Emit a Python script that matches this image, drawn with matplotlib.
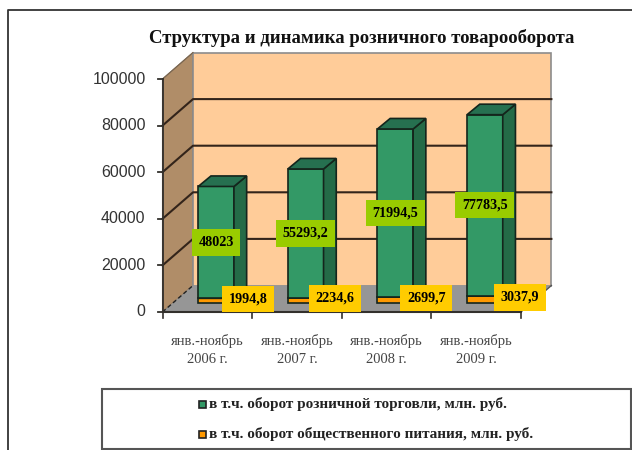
import matplotlib
matplotlib.use('Agg')
import matplotlib.pyplot as plt
from matplotlib.patches import Polygon, Rectangle

# data
periods = ['янв.-ноябрь\n2006 г.', 'янв.-ноябрь\n2007 г.', 'янв.-ноябрь\n2008 г.', 'янв.-ноябрь\n2009 г.']
retail = [48023, 55293.2, 71994.5, 77783.5]
catering = [1994.8, 2234.6, 2699.7, 3037.9]
retail_labels = ['48023', '55293,2', '71994,5', '77783,5']
catering_labels = ['1994,8', '2234,6', '2699,7', '3037,9']
yticks = [0, 20000, 40000, 60000, 80000, 100000]
title = 'Структура и динамика розничного товарооборота'
legend_names = ['в т.ч. оборот розничной торговли, млн. руб.',
                'в т.ч. оборот общественного питания, млн. руб.']

W, H = 632, 450
SERIF = 'Liberation Serif'
SANS = 'Liberation Sans'
LINE = '#14251c'

# one category = 89.6 px, 100000 = 233 px, origin at pixel (162.5, 312)
sx = 89.6
sy = 233 / 100000
fig = plt.figure(figsize=(W / 100, H / 100), dpi=100, facecolor='white')
ax = fig.add_axes([0, 0, 1, 1])
ax.set_xlim(-162.5 / sx, (W - 162.5) / sx)
ax.set_ylim(-(H - 312) / sy, 312 / sy)
ax.axis('off')


def px(x, y):
    return x / sx, y / sy


n = len(periods)
top = yticks[-1]
ddx, ddy = px(30.5, 26.5)

# outer frame of the slide
fig.add_artist(plt.Line2D([7.5 / W, 7.5 / W, 1], [0, 1 - 9.5 / H, 1 - 9.5 / H], color='#333333', lw=1.3))

# walls and floor
ax.add_patch(Polygon([(0, 0), (ddx, ddy), (ddx, top + ddy), (0, top)], fc='#B08D68', ec='#8a7560', lw=0.8, zorder=1))
ax.add_patch(Rectangle((ddx, ddy), n, top, fc='#FFCC99', ec='#8c8c8c', lw=1.2, zorder=1))
ax.add_patch(Polygon([(0, 0), (n, 0), (n + ddx, ddy), (ddx, ddy)], fc='#969696', ec='none', zorder=2))
ax.plot([0, ddx], [0, ddy], color='#222222', lw=1, ls=(0, (3, 2)), zorder=3)
ax.plot([n, n + ddx], [0, ddy], color='#555555', lw=1, zorder=3)

# gridlines
for v in yticks[1:]:
    if v < top:
        ax.plot([0, ddx, n + ddx], [v, v + ddy, v + ddy], color='#33241a', lw=1.5, zorder=2)
    else:
        ax.plot([0, ddx], [v, v + ddy], color='#7a6650', lw=0.8, zorder=2)

# axes lines and ticks
ax.plot([0, 0], [0, top], color='#33302c', lw=1.3, zorder=3)
ax.plot([0, n], [0, 0], color='#33302c', lw=1.5, zorder=3)
for v in yticks:
    ax.plot([-5 / sx, 0], [v, v], color='#33302c', lw=1.3, zorder=3)
    ax.text(-17 / sx, v, str(v), ha='right', va='center', fontsize=11.5, family=SANS, color='#333333')
for i in range(n + 1):
    ax.plot([i, i], [0, -6 / sy], color='#33302c', lw=1.2, zorder=3)
for i, name in enumerate(periods):
    ax.text(i + 0.5, -38 / sy, name, ha='center', va='center', fontsize=10.5, family=SERIF,
            color='#444444', linespacing=1.45)

# bars
bw = 35.7 / sx
fx, fy = px(8.8, 9)
bx, by = px(12.7, 10.5)


def box(x, y0, y1, front, side, roof, z):
    ax.add_patch(Rectangle((x, y0), bw, y1 - y0, fc=front, ec=LINE, lw=1.2, zorder=z))
    ax.add_patch(Polygon([(x + bw, y0), (x + bw + bx, y0 + by), (x + bw + bx, y1 + by), (x + bw, y1)],
                         fc=side, ec=LINE, lw=1.2, zorder=z))
    ax.add_patch(Polygon([(x, y1), (x + bw, y1), (x + bw + bx, y1 + by), (x + bx, y1 + by)],
                         fc=roof, ec=LINE, lw=1.2, zorder=z))


for i in range(n):
    x = i + 0.5 + fx - bw / 2
    box(x, fy, fy + catering[i], '#FF9900', '#B36B00', '#CC7A00', 4)
    box(x, fy + catering[i], fy + catering[i] + retail[i], '#339966', '#246B47', '#267050', 5)

# value labels
cat_shift = [32, 29, 31, 35]
for i in range(n):
    cx = i + 0.5 + fx
    ax.text(cx, fy + catering[i] + retail[i] / 2, retail_labels[i], ha='center', va='center',
            fontsize=10.2, family=SERIF, fontweight='bold', zorder=7,
            bbox=dict(fc='#99CC00', ec='none', boxstyle='square,pad=0.47'))
    ax.text(cx + cat_shift[i] / sx, fy + catering[i] / 2 + 2 / sy, catering_labels[i], ha='center', va='center',
            fontsize=10.2, family=SERIF, fontweight='bold', zorder=7,
            bbox=dict(fc='#FFCC00', ec='none', boxstyle='square,pad=0.47'))

fig.text(362 / W, 1 - 38 / H, title, ha='center', va='center', fontsize=13.5, family=SERIF,
         fontweight='bold', color='#111111')

# legend box
fig.add_artist(Rectangle((101.5 / W, 1 - 448.5 / H), 529 / W, 59.5 / H, transform=fig.transFigure,
                         fc='white', ec='#555555', lw=1.5))
legend_colors = ['#339966', '#FF9900']
for name, color, yp in zip(legend_names, legend_colors, [404, 434]):
    fig.add_artist(Rectangle((199 / W, 1 - (yp + 3.5) / H), 7 / W, 7 / H, transform=fig.transFigure,
                             fc=color, ec='#222222', lw=1.2))
    fig.text(209 / W, 1 - yp / H, name, ha='left', va='center', fontsize=11, family=SERIF,
             fontweight='bold', color='#222222')

fig.savefig('out.png', dpi=100)
